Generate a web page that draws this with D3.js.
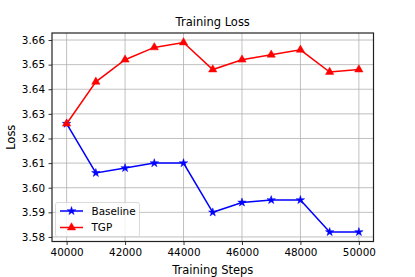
<!DOCTYPE html>
<html><head><meta charset="utf-8">
<script src="https://cdn.jsdelivr.net/npm/d3@7"></script>
<style>body{margin:0;background:#fff}svg{display:block;font-family:"DejaVu Sans",sans-serif}</style>
</head><body><svg id="c" width="415" height="277"></svg>
<script>
const steps = [40000,41000,42000,43000,44000,45000,46000,47000,48000,49000,50000];
const baseline = [3.626,3.606,3.608,3.610,3.610,3.590,3.594,3.595,3.595,3.582,3.582];
const tgp = [3.626,3.643,3.652,3.657,3.659,3.648,3.652,3.654,3.656,3.647,3.648];
const xTicks = [40000,42000,44000,46000,48000,50000];
const yTicks = [3.58,3.59,3.60,3.61,3.62,3.63,3.64,3.65,3.66];

const svg = d3.select("#c");
const L=52, R=373.5, T=33, B=241.5;
const x = d3.scaleLinear().domain([39500,50500]).range([L,R]);
const y = d3.scaleLinear().domain([3.57815,3.66285]).range([B,T]);

// grid
const g = svg.append("g");
g.selectAll(".gx").data(xTicks).enter().append("line")
  .attr("x1",d=>x(d)).attr("x2",d=>x(d)).attr("y1",T).attr("y2",B)
  .attr("stroke","#b0b0b0").attr("stroke-width",0.8);
g.selectAll(".gy").data(yTicks).enter().append("line")
  .attr("y1",d=>y(d)).attr("y2",d=>y(d)).attr("x1",L).attr("x2",R)
  .attr("stroke","#b0b0b0").attr("stroke-width",0.8);

// axes
const xa = svg.append("g").attr("transform",`translate(0,${B})`)
  .call(d3.axisBottom(x).tickValues(xTicks).tickFormat(d3.format("d")).tickSize(3.5).tickPadding(3.5));
const ya = svg.append("g").attr("transform",`translate(${L},0)`)
  .call(d3.axisLeft(y).tickValues(yTicks).tickFormat(d3.format(".2f")).tickSize(3.5).tickPadding(3.5));
[xa,ya].forEach(a=>{
  a.select(".domain").remove();
  a.selectAll("text").attr("font-size",10.4).attr("fill","#000").attr("font-family","DejaVu Sans");
  a.selectAll("line").attr("stroke","#000").attr("stroke-width",0.8);
});

// lines
const line = d3.line().x((d,i)=>x(steps[i])).y(d=>y(d));
function series(vals,color,sym,size){
  svg.append("path").datum(vals).attr("d",line).attr("fill","none")
    .attr("stroke",color).attr("stroke-width",1.5);
  svg.append("g").selectAll("path").data(vals).enter().append("path")
    .attr("d",d3.symbol().type(sym).size(size))
    .attr("transform",(d,i)=>`translate(${x(steps[i])},${y(d)})`)
    .attr("fill",color).attr("stroke",color).attr("stroke-width",0.5);
}
series(baseline,"#0000ff",d3.symbolStar,22);
series(tgp,"#ff0000",d3.symbolTriangle,30);

// spines
svg.append("rect").attr("x",L).attr("y",T).attr("width",R-L).attr("height",B-T)
  .attr("fill","none").attr("stroke","#222").attr("stroke-width",1.2);

// title & labels
svg.append("text").attr("x",(L+R)/2).attr("y",26).attr("text-anchor","middle")
  .attr("font-size",11.5).text("Training Loss");
svg.append("text").attr("x",(L+R)/2).attr("y",274).attr("text-anchor","middle")
  .attr("font-size",11.5).text("Training Steps");
svg.append("text").attr("transform",`translate(14.5,${(T+B)/2}) rotate(-90)`).attr("text-anchor","middle")
  .attr("font-size",11.5).text("Loss");

// legend
const lg = svg.append("g");
lg.append("rect").attr("x",55.5).attr("y",202.5).attr("width",84).attr("height",34).attr("rx",2)
  .attr("fill","#fff").attr("fill-opacity",0.8).attr("stroke","#d0d0d0").attr("stroke-width",0.8);
const items=[{n:"Baseline",c:"#0000ff",s:d3.symbolStar,z:22,y:211},{n:"TGP",c:"#ff0000",s:d3.symbolTriangle,z:30,y:227.5}];
items.forEach(it=>{
  lg.append("line").attr("x1",60).attr("x2",83).attr("y1",it.y).attr("y2",it.y).attr("stroke",it.c).attr("stroke-width",1.5);
  lg.append("path").attr("d",d3.symbol().type(it.s).size(it.z)).attr("transform",`translate(71.5,${it.y})`).attr("fill",it.c).attr("stroke",it.c).attr("stroke-width",0.5);
  lg.append("text").attr("x",91.5).attr("y",it.y+3.7).attr("font-size",10.4).text(it.n);
});
</script></body></html>
